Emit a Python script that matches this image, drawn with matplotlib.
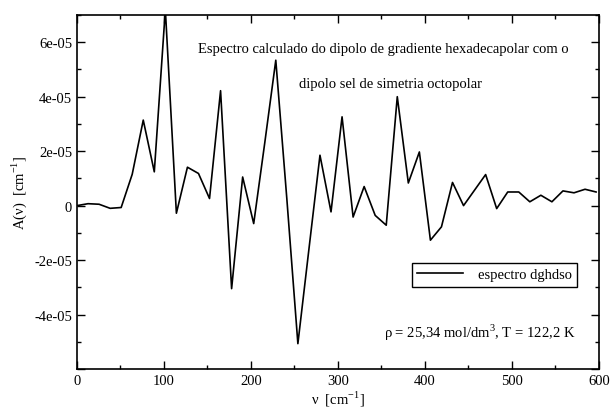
import matplotlib
matplotlib.use("Agg")
import matplotlib.pyplot as plt
from matplotlib.ticker import MultipleLocator, FuncFormatter

plt.rcParams['font.family'] = ['Liberation Serif', 'DejaVu Serif']
plt.rcParams['mathtext.fontset'] = 'custom'
plt.rcParams['mathtext.rm'] = 'Liberation Serif'

nu = [0.0, 12.7, 25.4, 38.1, 50.8, 63.5, 76.2, 88.9, 101.6, 114.3,
      127.0, 139.7, 152.4, 165.1, 177.8, 190.5, 203.2, 215.9, 228.6, 241.3,
      254.0, 266.7, 279.4, 292.1, 304.8, 317.5, 330.2, 342.9, 355.6, 368.3,
      381.0, 393.7, 406.4, 419.1, 431.8, 444.5, 457.2, 469.9, 482.6, 495.3,
      508.0, 520.7, 533.4, 546.1, 558.8, 571.5, 584.2, 596.9]
A_e5 = [0.0, 0.07, 0.05, -0.10, -0.07, 1.15, 3.14, 1.24, 7.2, -0.28,
        1.41, 1.18, 0.26, 4.22, -3.05, 1.05, -0.66, 2.3, 5.34, 0.25,
        -5.07, -1.6, 1.85, -0.23, 3.26, -0.42, 0.70, -0.36, -0.72, 4.0,
        0.83, 1.97, -1.27, -0.78, 0.85, 0.0, 0.57, 1.14, -0.11, 0.50,
        0.50, 0.14, 0.38, 0.14, 0.54, 0.47, 0.60, 0.50]
A = [v * 1e-5 for v in A_e5]

legend_label = "espectro dghdso"
title1 = "Espectro calculado do dipolo de gradiente hexadecapolar com o"
title2 = "dipolo sel de simetria octopolar"
cond = r"ρ = 25,34 mol/dm$^{3}$, T = 122,2 K"

fig = plt.figure(figsize=(6.11, 4.10), dpi=100)
ax = fig.add_axes([0.126, 0.0976, 0.854, 0.8634])
ax.plot(nu, A, color='black', lw=1.2, label=legend_label)

ax.set_xlim(0, 600)
ax.set_ylim(-6e-5, 7e-5)
ax.xaxis.set_major_locator(MultipleLocator(100))
ax.xaxis.set_minor_locator(MultipleLocator(50))
ax.yaxis.set_major_locator(MultipleLocator(2e-5))
ax.yaxis.set_minor_locator(MultipleLocator(1e-5))

def yfmt(v, p):
    if abs(v) < 1e-12:
        return '0'
    if v < -5.5e-5:
        return ''
    return f'{v:.0e}'

ax.yaxis.set_major_formatter(FuncFormatter(yfmt))
ax.tick_params(which='both', direction='in', top=True, right=True, labelsize=10.5, width=1)
ax.tick_params(which='major', length=6)
ax.tick_params(which='minor', length=3)
for s in ax.spines.values():
    s.set_linewidth(1.2)

ax.set_xlabel(r"ν  [cm$^{-1}$]", fontsize=10.5, labelpad=1)
ax.set_ylabel(r"A(ν)  [cm$^{-1}$]", fontsize=10.5, labelpad=4)

ax.text(0.588, 0.905, title1, transform=ax.transAxes, ha='center', va='center', fontsize=10.5)
ax.text(0.6, 0.806, title2, transform=ax.transAxes, ha='center', va='center', fontsize=10.5)
ax.text(0.955, 0.104, cond, transform=ax.transAxes, ha='right', va='center', fontsize=10.5)

leg = ax.legend(loc='center', bbox_to_anchor=(0.80, 0.266), fontsize=10.5, frameon=True,
                fancybox=False, edgecolor='black', framealpha=1, handlelength=3.2,
                borderpad=0.35, handletextpad=1.0)
leg.get_frame().set_linewidth(1.0)

fig.savefig("out.png", dpi=100)
